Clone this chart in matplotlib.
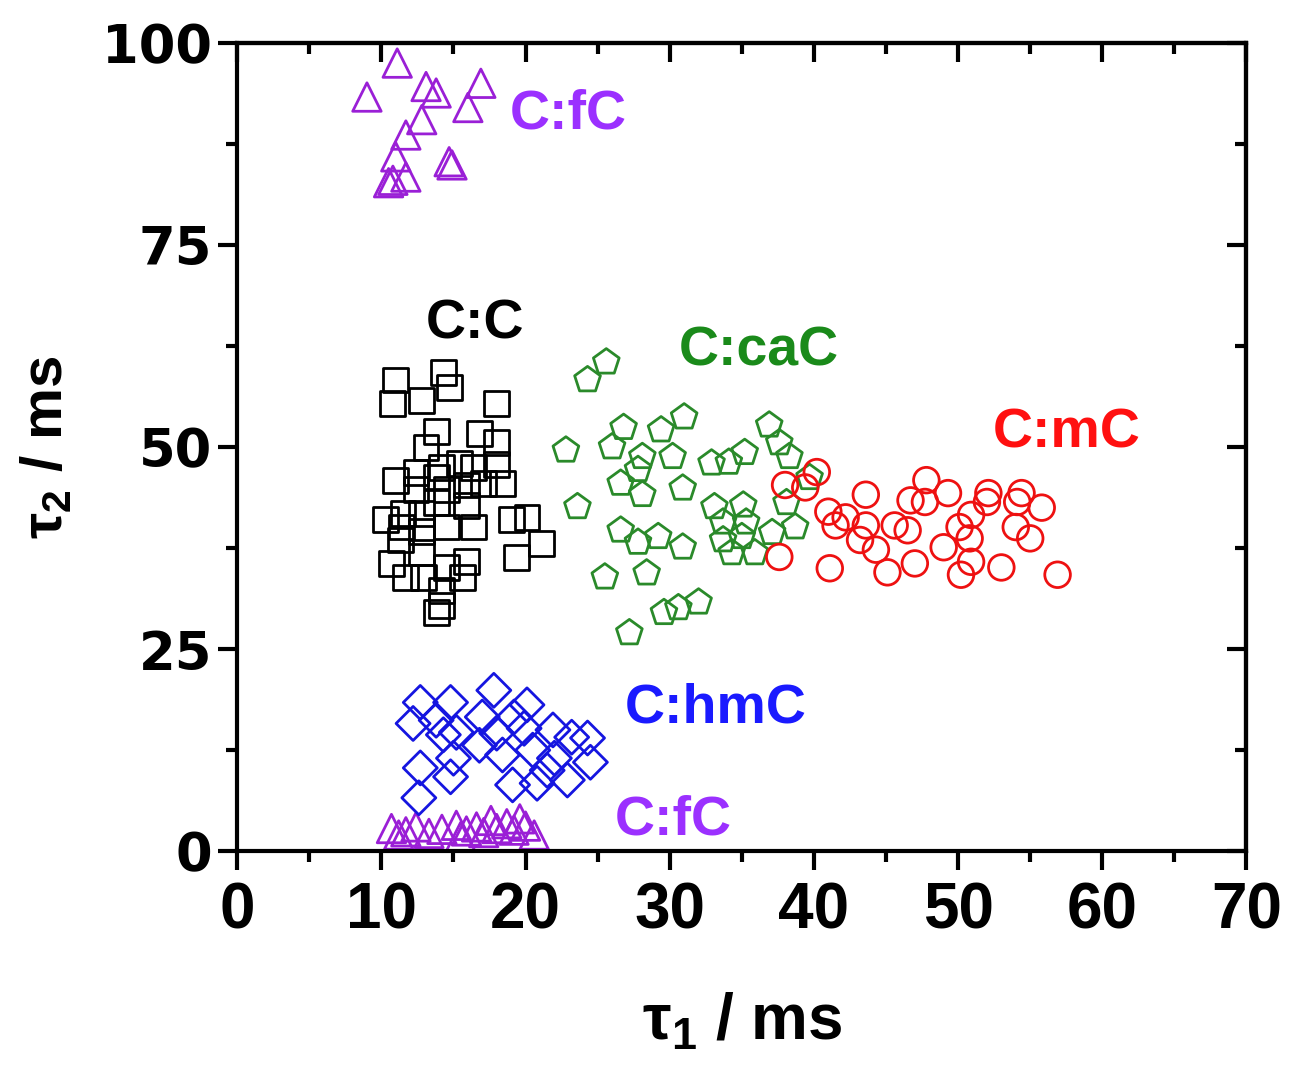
import matplotlib.pyplot as plt
from matplotlib.ticker import MultipleLocator

# C:C (squares)
cc_x = [11.0, 14.3, 14.7, 10.8, 12.8, 18.0, 13.8, 16.8, 18.0, 13.1, 12.4, 16.4, 18.0, 11.0, 13.8,
        12.4, 15.9, 17.1, 18.4, 13.8, 15.9, 11.5, 10.3, 12.8, 14.5, 16.4, 19.0, 20.1, 12.8, 11.3,
        21.1, 19.4, 12.8, 10.7, 15.9, 11.7, 12.9, 14.5, 15.6, 14.2, 14.2, 13.8, 11.4, 14.5, 15.4, 14.2]
cc_y = [58.3, 59.2, 57.4, 55.4, 55.8, 55.4, 51.9, 51.7, 50.6, 49.9, 46.9, 47.5, 47.8, 45.9, 46.3,
        44.7, 45.3, 45.5, 45.5, 43.1, 42.8, 41.8, 41.0, 41.8, 40.1, 40.1, 41.0, 41.3, 39.5, 38.5,
        38.1, 36.3, 37.0, 35.6, 35.8, 33.9, 33.9, 35.1, 33.9, 32.3, 30.4, 29.5, 40.1, 44.7, 48.0, 47.5]

# C:caC (pentagons)
cac_x = [25.6, 24.3, 31.0, 26.8, 29.4, 36.9, 22.8, 26.0, 28.1, 30.2, 37.6, 38.3, 32.9, 34.1, 35.2,
         27.8, 26.6, 30.9, 28.1, 23.6, 39.7, 33.1, 35.1, 38.1, 33.7, 35.3, 33.7, 35.0, 37.1, 38.7,
         26.6, 27.8, 29.2, 30.9, 34.3, 35.9, 25.5, 28.4, 32.0, 30.6, 29.6, 27.2]
cac_y = [60.5, 58.3, 53.7, 52.4, 52.1, 52.7, 49.6, 50.0, 48.8, 48.8, 50.5, 48.8, 48.0, 48.1, 49.3,
         47.2, 45.5, 44.9, 44.1, 42.6, 46.2, 42.6, 42.8, 43.1, 40.7, 40.7, 38.5, 38.9, 39.4, 40.1,
         39.7, 38.2, 38.9, 37.6, 36.9, 36.9, 33.9, 34.4, 30.8, 30.1, 29.5, 27.0]

# C:mC (circles)
mc_x = [40.2, 38.0, 39.4, 47.8, 43.6, 49.3, 46.7, 47.7, 52.1, 54.4, 54.1, 55.8, 52.0, 41.0, 42.2,
        43.6, 41.5, 45.6, 46.5, 50.9, 50.1, 54.0, 43.2, 44.3, 49.0, 50.8, 55.0, 50.9, 47.0, 37.6,
        41.1, 45.1, 50.2, 53.0, 56.9]
mc_y = [46.9, 45.3, 45.0, 45.9, 44.1, 44.3, 43.4, 43.2, 44.3, 44.3, 43.2, 42.5, 43.2, 42.0, 41.3,
        40.3, 40.3, 40.3, 39.7, 41.6, 40.1, 40.1, 38.5, 37.3, 37.6, 38.7, 38.7, 35.8, 35.6, 36.4,
        35.0, 34.5, 34.2, 35.1, 34.2]

# C:hmC (diamonds)
hmc_x = [12.7, 14.8, 17.8, 20.1, 12.2, 13.8, 17.0, 19.2, 14.3, 15.2, 16.8, 18.0, 19.9, 21.9, 23.2,
         24.3, 20.5, 22.0, 24.5, 12.7, 15.0, 18.4, 14.8, 19.1, 20.8, 22.9, 12.6, 21.5]
hmc_y = [18.4, 18.4, 19.9, 18.1, 15.8, 16.2, 16.6, 16.6, 14.4, 14.7, 13.1, 14.6, 15.2, 15.0, 14.1,
         14.0, 12.5, 11.5, 11.0, 10.3, 11.5, 11.9, 9.2, 8.2, 8.4, 8.8, 6.6, 10.0]

# C:fC (triangles), upper and lower populations
fc_hi_x = [11.1, 9.0, 13.1, 13.8, 16.9, 16.0, 12.8, 11.7, 11.0, 10.8, 11.7, 14.9, 14.7, 10.5]
fc_hi_y = [97.5, 93.3, 94.6, 93.8, 95.0, 92.0, 90.5, 88.6, 85.9, 83.0, 83.4, 84.9, 85.3, 82.7]
fc_lo_x = [10.7, 11.7, 12.4, 13.3, 14.2, 15.2, 15.9, 16.6, 17.1, 18.0, 18.7, 19.2, 20.0, 20.6,
           11.2, 15.5, 17.6, 19.6]
fc_lo_y = [2.8, 2.4, 3.0, 2.2, 2.7, 3.2, 2.5, 3.0, 2.3, 2.8, 3.4, 2.6, 3.1, 2.0,
           2.0, 1.8, 3.8, 4.0]

plt.rcParams['font.weight'] = 'bold'
plt.rcParams['mathtext.fontset'] = 'custom'
plt.rcParams['mathtext.rm'] = 'Liberation Sans:bold'
plt.rcParams['mathtext.it'] = 'Liberation Sans:bold'

fig = plt.figure(figsize=(12.89, 10.72), dpi=100)
ax = fig.add_axes([0.184, 0.206, 0.783, 0.754])

purple = '#9a1fd6'
green = '#2a8a2a'
red = '#ee1111'
blue = '#1515e0'
lw = 2.0

ax.scatter(fc_hi_x, fc_hi_y, marker='^', s=420, facecolors='none', edgecolors=purple, linewidths=lw)
ax.scatter(fc_lo_x, fc_lo_y, marker='^', s=420, facecolors='none', edgecolors=purple, linewidths=lw)
ax.scatter(cc_x, cc_y, marker='s', s=320, facecolors='none', edgecolors='black', linewidths=lw)
ax.scatter(cac_x, cac_y, marker='p', s=380, facecolors='none', edgecolors=green, linewidths=lw)
ax.scatter(mc_x, mc_y, marker='o', s=340, facecolors='none', edgecolors=red, linewidths=lw)
ax.scatter(hmc_x, hmc_y, marker='D', s=300, facecolors='none', edgecolors=blue, linewidths=lw)

lab = dict(fontsize=40, fontweight='bold', family='Liberation Sans', va='center', ha='left')
ax.text(18.9, 91.2, 'C:fC', color='#9b30ff', **lab)
ax.text(13.1, 65.2, 'C:C', color='black', **lab)
ax.text(30.6, 61.8, 'C:caC', color='#1a8a1a', **lab)
ax.text(52.4, 51.7, 'C:mC', color='#ff1010', **lab)
ax.text(26.9, 17.6, 'C:hmC', color='#1a1aff', **lab)
ax.text(26.2, 3.8, 'C:fC', color='#9b30ff', **lab)

ax.set_xlim(0, 70)
ax.set_ylim(0, 100)
ax.xaxis.set_major_locator(MultipleLocator(10))
ax.xaxis.set_minor_locator(MultipleLocator(5))
ax.yaxis.set_major_locator(MultipleLocator(25))
ax.yaxis.set_minor_locator(MultipleLocator(12.5))
ax.tick_params(which='major', direction='out', length=14, width=3)
ax.tick_params(which='minor', direction='out', length=8, width=3)
ax.tick_params(axis='x', pad=8, labelsize=46, labelfontfamily='Liberation Sans')
ax.tick_params(axis='y', pad=4, labelsize=38, labelfontfamily='DejaVu Sans')

for sp in ax.spines.values():
    sp.set_linewidth(3)

# mirrored ticks pointing inward on top and right
top = ax.secondary_xaxis('top')
top.xaxis.set_major_locator(MultipleLocator(10))
top.xaxis.set_minor_locator(MultipleLocator(5))
top.tick_params(which='major', direction='in', length=14, width=3, labeltop=False)
top.tick_params(which='minor', direction='in', length=8, width=3)
top.spines['top'].set_linewidth(3)
right = ax.secondary_yaxis('right')
right.yaxis.set_major_locator(MultipleLocator(25))
right.yaxis.set_minor_locator(MultipleLocator(12.5))
right.tick_params(which='major', direction='in', length=14, width=3, labelright=False)
right.tick_params(which='minor', direction='in', length=8, width=3)
right.spines['right'].set_linewidth(3)

ax.set_xlabel(r'$\mathregular{\tau_1}$ / ms', fontsize=46, fontweight='bold',
              family='Liberation Sans', labelpad=36)
ax.set_ylabel(r'$\mathregular{\tau_2}$ / ms', fontsize=42, fontweight='bold',
              family='Liberation Sans', labelpad=20)

fig.savefig('out.png', dpi=100)
